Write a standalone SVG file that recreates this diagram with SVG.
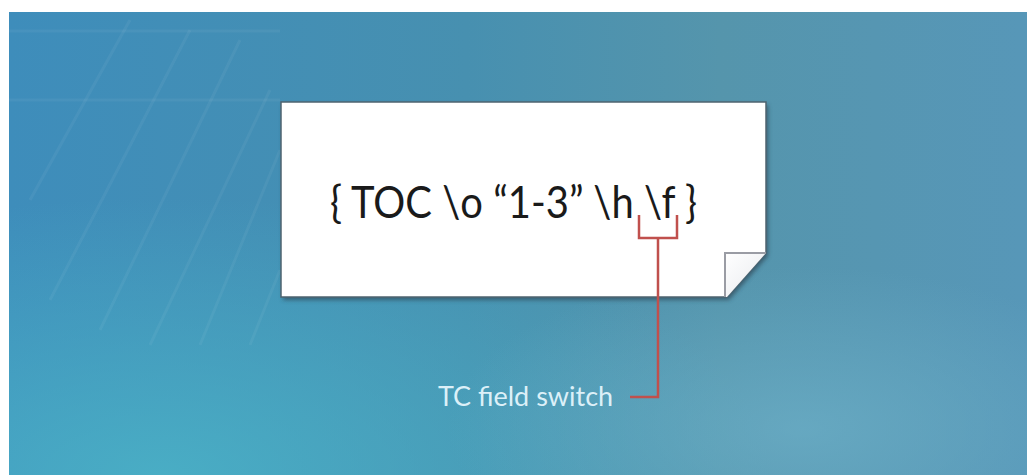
<svg xmlns="http://www.w3.org/2000/svg" width="1027" height="475" viewBox="0 0 1027 475">
<style>
.main{font-family:Lato,"Open Sans","Liberation Sans",sans-serif;font-size:45px;fill:#1a1a1a}
.label{font-family:Lato,"Open Sans","Liberation Sans",sans-serif;font-size:27px;fill:#dcf0f8}
.red{fill:none;stroke:#c0504d;stroke-width:2.5}
.streak{stroke:#ffffff;stroke-opacity:0.05;stroke-width:3}
</style>
<defs>
<linearGradient id="bg" x1="0" y1="0" x2="1" y2="0">
<stop offset="0" stop-color="#3e8dbb"/>
<stop offset="0.45" stop-color="#4790b0"/>
<stop offset="0.7" stop-color="#5595ac"/>
<stop offset="1" stop-color="#5797b8"/>
</linearGradient>
<radialGradient id="glowBL" cx="0.15" cy="1" r="0.6">
<stop offset="0" stop-color="#4bb5c8" stop-opacity="0.8"/>
<stop offset="1" stop-color="#4bb5c8" stop-opacity="0"/>
</radialGradient>
<radialGradient id="glowBR" cx="0.78" cy="0.9" r="0.35">
<stop offset="0" stop-color="#6db0c8" stop-opacity="0.7"/>
<stop offset="1" stop-color="#6db0c8" stop-opacity="0"/>
</radialGradient>
<linearGradient id="flap" x1="0" y1="0" x2="1" y2="1">
<stop offset="0" stop-color="#ffffff"/>
<stop offset="1" stop-color="#e8eaee"/>
</linearGradient>
<filter id="shadow" x="-5%" y="-10%" width="110%" height="125%">
<feGaussianBlur stdDeviation="2"/>
</filter>
</defs>
<rect x="0" y="0" width="1027" height="475" fill="#ffffff"/>
<rect x="9" y="12" width="1018" height="463" fill="url(#bg)"/>
<rect x="9" y="12" width="1018" height="463" fill="url(#glowBL)"/>
<rect x="9" y="12" width="1018" height="463" fill="url(#glowBR)"/>
<g class="streaks">
<line class="streak" x1="9" y1="31" x2="280" y2="31"/>
<line class="streak" x1="9" y1="100" x2="280" y2="100"/>
<line class="streak" x1="30" y1="200" x2="130" y2="20"/>
<line class="streak" x1="50" y1="300" x2="190" y2="30"/>
<line class="streak" x1="100" y1="330" x2="240" y2="40"/>
<line class="streak" x1="150" y1="345" x2="270" y2="90"/>
<line class="streak" x1="200" y1="345" x2="280" y2="150"/>
<line class="streak" x1="250" y1="345" x2="280" y2="270"/>
</g>
<g id="note">
<path d="M281,102 H766 V253 L727,297 H281 Z" fill="#2e4656" opacity="0.7" transform="translate(2,3)" filter="url(#shadow)"/>
<path d="M281,102 H766 V253 L727,297 H281 Z" fill="#ffffff" stroke="#4f6470" stroke-width="1.5"/>
<path d="M725,297 V253 H766 L727,297 Z" fill="url(#flap)"/>
<path d="M725,297 V253 H766" fill="none" stroke="#9a9ca4" stroke-width="2"/>
<text class="main" x="330" y="218" textLength="367" lengthAdjust="spacingAndGlyphs">{ TOC \o “1-3” \h \f }</text>
</g>
<g id="label">
<text class="label" x="438" y="406">TC field switch</text>
</g>
<g id="connectors">
<path class="red" d="M639,215 V238 H677 V215"/>
<path class="red" d="M658,238 V397 H630"/>
</g>
</svg>
